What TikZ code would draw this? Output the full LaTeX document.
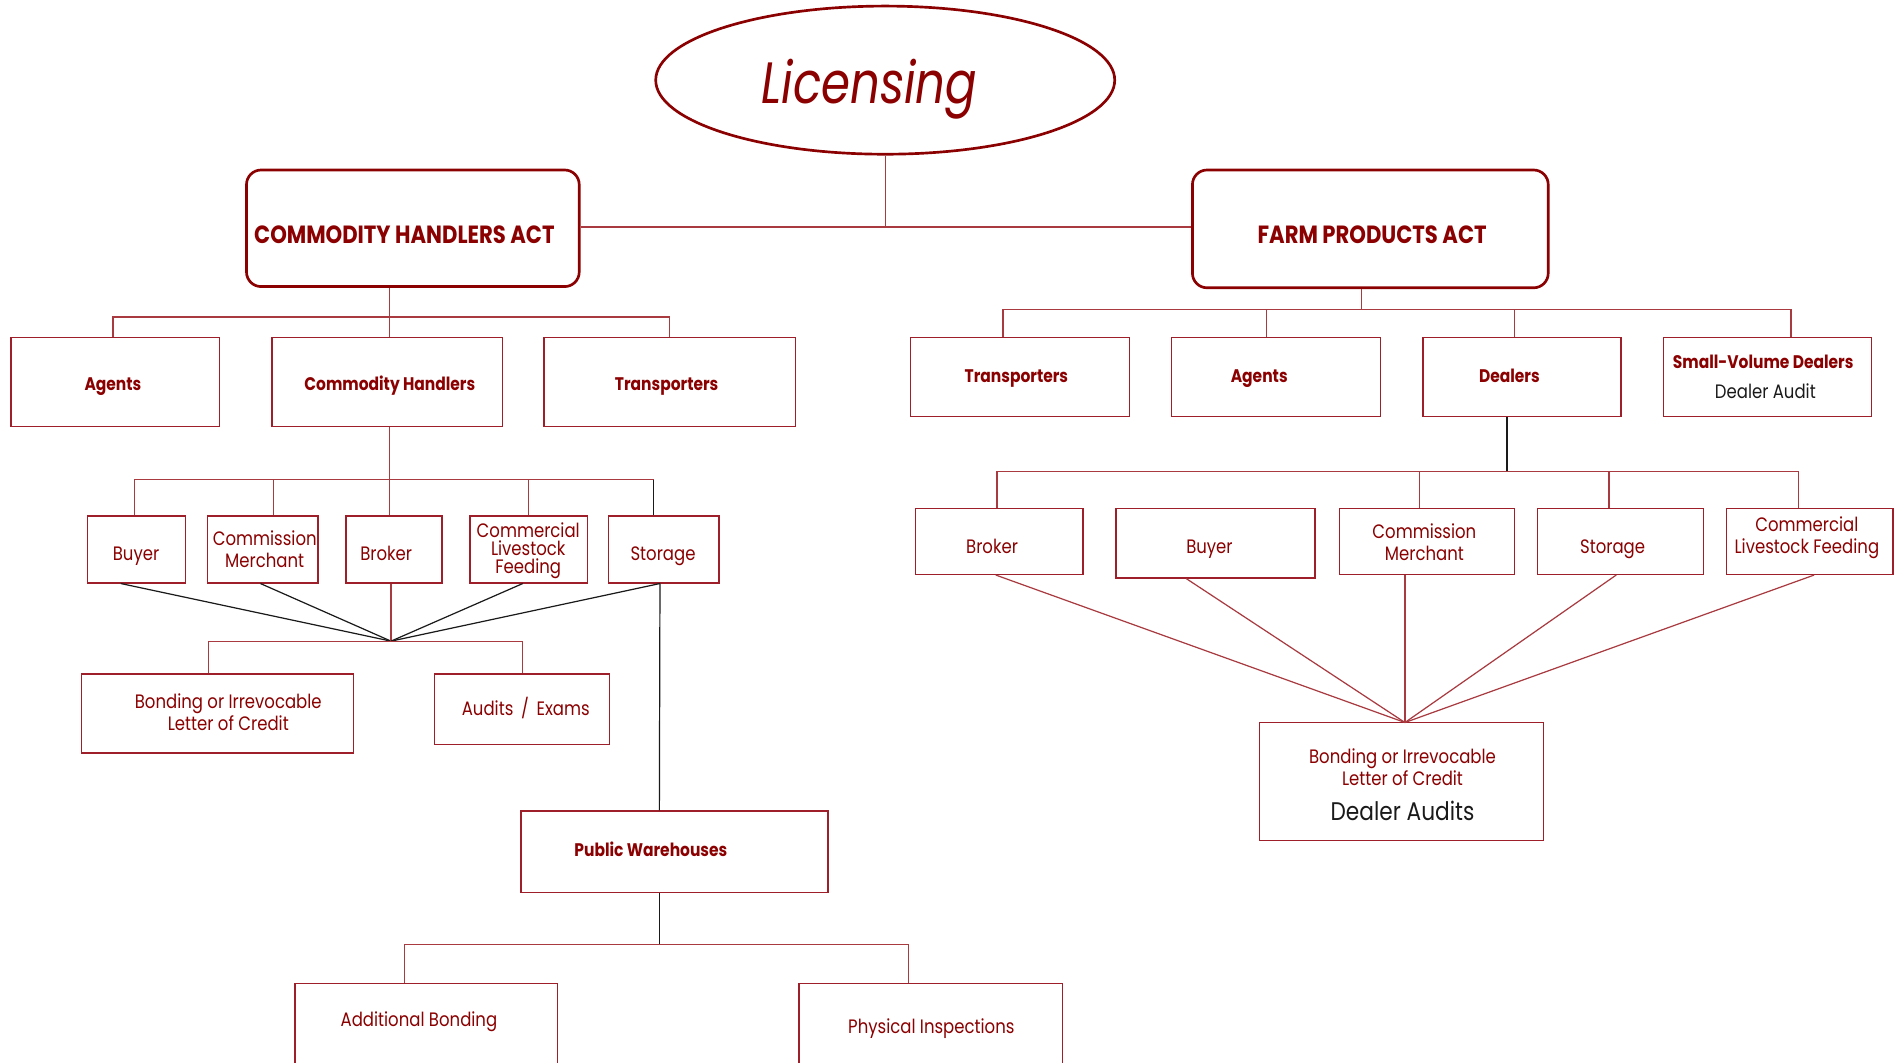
\documentclass[tikz,border=0pt]{standalone}
\usepackage{fontspec}
\setmainfont{Poppins}
\newfontfamily\cf[FakeStretch=0.85]{Poppins}
\newfontfamily\lf[FakeStretch=0.8]{Poppins}
\usetikzlibrary{shapes.geometric}
\definecolor{dred}{HTML}{8B0000}
\definecolor{lred}{HTML}{A83A40}
\definecolor{bred}{HTML}{9E1F2A}
\definecolor{tblk}{HTML}{1A1A1A}
\newcommand\bx[9]{%
  \node[#6box, minimum width={(#4-#2)*1pt}, minimum height={(#5-#3)*1pt}] (#1) at ({(#2+#4)/2},{(#3+#5)/2}) {};
  \node[#6txt] (#1t) at (#7,#8) {#9};}
\begin{document}
\begin{tikzpicture}[x=1pt,y=-1pt,
  thinbox/.style={draw=bred, line width=1.1pt, inner sep=0pt},
  thintxt/.style={inner sep=0pt, align=center, text=dred, text height=11pt, text depth=0pt, font=\cf\fontsize{16}{18}\selectfont},
  twobox/.style={thinbox},
  twotxt/.style={thintxt, text height=29pt},
  threebox/.style={thinbox},
  threetxt/.style={thintxt, text height=41pt},
  svbox/.style={thinbox},
  svtxt/.style={thintxt, text height=35pt},
  bonbox/.style={thinbox},
  bontxt/.style={thintxt, text height=60pt},
  boldbox/.style={thinbox},
  boldtxt/.style={inner sep=0pt, align=center, text=dred, text height=10.5pt, text depth=0pt, font=\cf\bfseries\fontsize{15}{18}\selectfont},
  actbox/.style={draw=dred, line width=2.2pt, rounded corners=12pt, inner sep=0pt},
  acttxt/.style={inner sep=0pt, text=dred, text height=14.5pt, text depth=0pt, font=\cf\bfseries\fontsize{20.5}{24}\selectfont},
  con/.style={draw=lred, line width=1pt},
  blk/.style={draw=tblk, line width=1pt}]
\clip (0,0) rectangle (1568,875);
\fill[white] (0,0) rectangle (1568,875);

% top
\node[ellipse, draw=dred, line width=2.2pt, minimum width=378pt, minimum height=122pt, inner sep=0pt] (lic) at (729,66) {};
\node[inner sep=0pt, text=dred, text height=34pt, text depth=0pt, font=\lf\itshape\fontsize{48}{54}\selectfont] (lict) at (716,68.5) {Licensing};

\bx{cha}{203}{140}{477}{236}{act}{333}{193}{COMMODITY HANDLERS ACT}
\bx{fpa}{982}{140}{1275}{237}{act}{1130}{193}{FARM PRODUCTS ACT}

\coordinate (j0) at (729,187);
\draw[con] (lic.south) -- (j0);
\draw[con] (cha.east |- j0) -- (fpa.west |- j0);

% ---- left side
\bx{agL}{9}{278}{181}{351}{bold}{93}{316}{Agents}
\bx{chL}{224}{278}{414}{351}{bold}{321}{316}{Commodity Handlers}
\bx{trL}{448}{278}{655}{351}{bold}{549}{316}{Transporters}
\coordinate (b1) at (321,261);
\draw[con] (cha.south -| b1) -- (b1);
\draw[con] ([xshift=-2pt]agL.north) |- (b1) -| (trL.north);
\draw[con] (b1) -- (chL.north -| b1);

\bx{buL}{72}{425}{153}{480}{thin}{112}{456}{Buyer}
\bx{cmL}{171}{425}{262}{480}{two}{218}{453}{Commission\\Merchant}
\bx{brL}{285}{425}{364}{480}{thin}{318}{456}{Broker}
\bx{clL}{387}{425}{484}{480}{three}{435}{452}{Commercial\\[-3pt]Livestock\\[-3pt]Feeding}
\bx{stL}{501}{425}{592}{480}{thin}{546}{456}{Storage}
\coordinate (b2) at (321,395);
\draw[con] (chL.south -| b2) -- (b2);
\draw[con] ([xshift=-1.5pt]buL.north) |- (b2);
\draw[con] (b2) -| ([xshift=-8.5pt]stL.north);
\draw[con] (b2 -| cmL.north) ++(8.5,0) -- ([xshift=8.5pt]cmL.north);
\draw[con] (b2) -- (brL.north -| b2);
\draw[con] (b2 -| clL.north) -- (clL.north);
\draw[blk] (b2 -| stL.north) ++(-8.5,0) -- ([xshift=-8.5pt]stL.north);

\coordinate (hubL) at (322,528);
\draw[blk] ([xshift=-13pt]buL.south) -- (hubL);
\draw[blk] ([xshift=-2pt]cmL.south) -- (hubL);
\draw[con] (brL.south -| hubL) -- (hubL);
\draw[blk] ([xshift=-5pt]clL.south) -- (hubL);
\draw[blk] ([xshift=-3pt]stL.south) -- (hubL);

\bx{bonL}{67}{555}{291}{620}{two}{188}{587}{Bonding or Irrevocable\\Letter of Credit}
\bx{audL}{358}{555}{502}{613}{thin}{433}{584}{Audits \,/\, Exams}
\draw[con] ([xshift=-7pt]bonL.north) |- (hubL) -| (audL.north);

\bx{pw}{429}{668}{682}{735}{bold}{536}{700}{Public Warehouses}
\draw[blk] ([xshift=-3pt]stL.south) -- ([xshift=-12.5pt]pw.north);
\coordinate (b3) at (543,778);
\draw[blk] ([xshift=-12.5pt]pw.south) -- (b3);
\bx{adb}{243}{810}{459}{890}{thin}{345}{840}{Additional Bonding}
\bx{phi}{658}{810}{875}{890}{thin}{767}{846}{Physical Inspections}
\draw[con] ([xshift=-18pt]adb.north) |- (b3) -| ([xshift=-18.5pt]phi.north);

% ---- right side
\bx{trR}{750}{278}{930}{343}{bold}{837}{310}{Transporters}
\bx{agR}{965}{278}{1137}{343}{bold}{1037}{310}{Agents}
\bx{dlR}{1172}{278}{1335}{343}{bold}{1243}{310}{Dealers}
\bx{svR}{1370}{278}{1541}{343}{sv}{1452}{310.5}{{\bfseries\fontsize{15}{18}\selectfont Small-Volume Dealers}\\[6.5pt]\color{tblk}\ Dealer Audit}
\coordinate (b4) at (1121,255);
\draw[con] ([xshift=-7.5pt]fpa.south) -- (b4);
\draw[con] ([xshift=-14pt]trR.north) |- (b4) -| ([xshift=19.5pt]svR.north);
\draw[con] (b4 -| agR.north) ++(-8,0) -- ([xshift=-8pt]agR.north);
\draw[con] (b4 -| dlR.north) ++(-6.5,0) -- ([xshift=-6.5pt]dlR.north);

\bx{brR}{754}{419}{892}{473}{thin}{817}{450}{Broker}
\bx{buR}{919}{419}{1083}{476}{thin}{996}{450}{Buyer}
\bx{cmR}{1103}{419}{1247}{473}{two}{1173}{447}{Commission\\Merchant}
\bx{stR}{1266}{419}{1403}{473}{thin}{1328}{450}{Storage}
\bx{clR}{1422}{419}{1559}{473}{two}{1488}{441}{Commercial\\Livestock Feeding}
\coordinate (b5) at (1241,388);
\draw[blk] (dlR.south -| b5) -- (b5);
\draw[con] ([xshift=-2pt]brR.north) |- (b5) -| ([xshift=-9.5pt]clR.north);
\draw[con] (b5 -| cmR.north) ++(-6,0) -- ([xshift=-6pt]cmR.north);
\draw[con] (b5 -| stR.north) ++(-9.5,0) -- ([xshift=-9.5pt]stR.north);

\bx{bonR}{1037}{595}{1271}{692}{bon}{1155}{645.5}{Bonding or Irrevocable\\Letter of Credit\\[11pt]\color{tblk}\fontsize{21}{24}\selectfont Dealer Audits}
\coordinate (hubR) at (1157,595);
\draw[con] ([xshift=-3pt]brR.south) -- (hubR);
\draw[con] ([xshift=-24pt]buR.south) -- (hubR);
\draw[con] (cmR.south -| hubR) -- (hubR);
\draw[con] ([xshift=-3.5pt]stR.south) -- (hubR);
\draw[con] ([xshift=3.5pt]clR.south) -- (hubR);
\end{tikzpicture}
\end{document}
